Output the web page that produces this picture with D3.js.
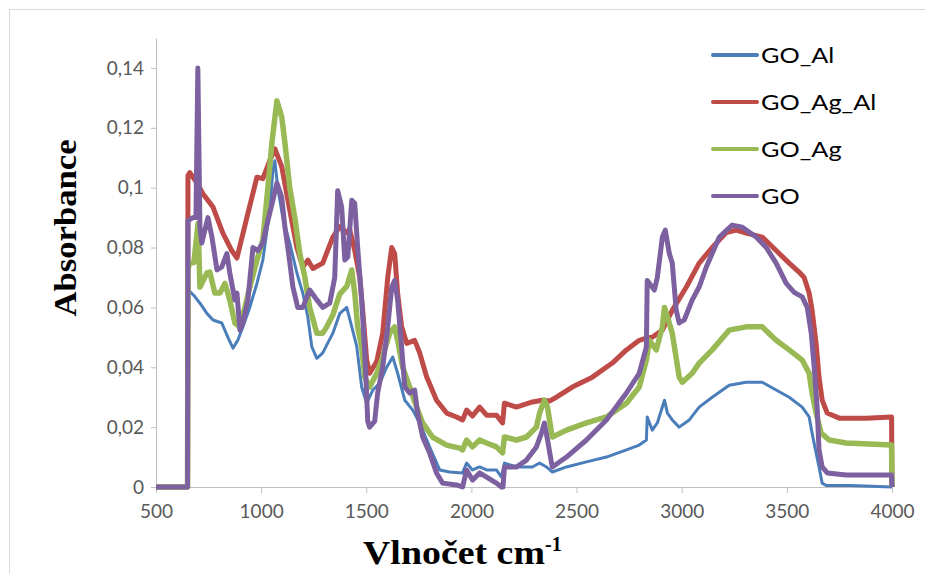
<!DOCTYPE html>
<html>
<head>
<meta charset="utf-8">
<script src="https://cdn.jsdelivr.net/npm/d3@7"></script>
<style>
  body { margin: 0; background: #fff; }
  #chart text { font-family: Lato, "Open Sans", sans-serif; }
</style>
</head>
<body>
<svg id="chart" width="925" height="574"></svg>
<script>
// wavenumber (cm-1), absorbance pairs
const goAl = [
  [500,0],[650,0],[652,0.066],[680,0.064],[709,0.0614],[742,0.058],[771,0.0558],[813,0.0548],[842,0.050],
  [866,0.0464],[889,0.049],[913,0.0535],[946,0.060],[980,0.068],[1008,0.0758],[1041,0.0925],[1056,0.106],
  [1065,0.109],[1079,0.100],[1103,0.090],[1136,0.0815],[1170,0.0715],[1198,0.0648],[1222,0.0568],[1241,0.0468],
  [1265,0.043],[1293,0.0448],[1341,0.0514],[1374,0.058],[1407,0.060],[1431,0.0535],[1455,0.0468],[1478,0.0334],
  [1502,0.028],[1531,0.0324],[1564,0.0347],[1597,0.040],[1626,0.0434],[1649,0.038],[1683,0.029],[1721,0.0257],
  [1754,0.0214],[1801,0.0134],[1849,0.0057],[1896,0.005],[1958,0.0047],[1977,0.008],[2005,0.0057],[2039,0.0067],
  [2072,0.0057],[2119,0.0057],[2143,0.0033],[2157,0.008],[2214,0.0067],[2290,0.0067],[2324,0.008],[2357,0.0067],
  [2385,0.005],[2452,0.0067],[2547,0.0084],[2642,0.010],[2737,0.0124],[2798,0.014],[2832,0.0157],[2836,0.0234],
  [2860,0.019],[2884,0.0214],[2918,0.029],[2932,0.0247],[2955,0.0224],[2988,0.020],[3036,0.0224],[3083,0.0267],
  [3145,0.030],[3226,0.034],[3307,0.035],[3383,0.035],[3449,0.0324],[3511,0.030],[3573,0.0267],[3606,0.0234],
  [3620,0.018],[3639,0.0114],[3653,0.0067],[3668,0.0013],[3687,0.0005],[3800,0.0005],[4000,0]
];

const goAgAl = [
  [500,0],[650,0],[652,0.104],[661,0.105],[700,0.101],[723,0.098],[771,0.0935],[818,0.0848],[860,0.079],
  [885,0.0765],[932,0.090],[980,0.1035],[1008,0.103],[1041,0.109],[1065,0.113],[1098,0.107],[1136,0.0925],
  [1170,0.080],[1198,0.0735],[1222,0.0758],[1246,0.073],[1293,0.0748],[1341,0.0835],[1374,0.087],[1407,0.085],
  [1421,0.086],[1445,0.079],[1469,0.070],[1483,0.059],[1502,0.0424],[1516,0.038],[1550,0.042],[1578,0.0514],
  [1602,0.070],[1621,0.080],[1635,0.078],[1649,0.0648],[1668,0.0535],[1692,0.048],[1730,0.049],[1754,0.0448],
  [1787,0.0368],[1834,0.029],[1882,0.0247],[1929,0.0234],[1958,0.0224],[1977,0.0257],[2005,0.0237],[2039,0.0267],
  [2072,0.024],[2119,0.024],[2148,0.0214],[2157,0.028],[2214,0.0267],[2290,0.0284],[2338,0.029],[2371,0.0287],
  [2404,0.030],[2480,0.0334],[2575,0.0367],[2670,0.0414],[2737,0.0458],[2798,0.049],[2836,0.0498],[2860,0.050],
  [2908,0.0524],[2955,0.059],[3022,0.0668],[3083,0.0748],[3145,0.080],[3212,0.085],[3259,0.0858],[3307,0.0848],
  [3383,0.0835],[3449,0.079],[3511,0.0748],[3558,0.0718],[3582,0.070],[3606,0.0648],[3620,0.059],[3639,0.048],
  [3653,0.0367],[3668,0.029],[3692,0.0247],[3749,0.023],[3877,0.023],[3998,0.0234],[4000,0]
];

const goAg = [
  [500,0],[650,0],[652,0.073],[661,0.0748],[680,0.075],[700,0.088],[709,0.0668],[742,0.0715],[756,0.0718],
  [780,0.0648],[804,0.0648],[828,0.068],[851,0.0625],[875,0.0548],[899,0.0535],[923,0.060],[946,0.0668],
  [980,0.0758],[1008,0.0825],[1032,0.100],[1051,0.115],[1075,0.129],[1098,0.1236],[1113,0.115],[1136,0.100],
  [1160,0.090],[1184,0.078],[1208,0.070],[1231,0.060],[1265,0.0514],[1293,0.0514],[1312,0.0535],[1341,0.0575],
  [1374,0.0645],[1407,0.067],[1431,0.0725],[1445,0.0648],[1459,0.0535],[1478,0.0468],[1493,0.0367],[1516,0.0334],
  [1550,0.038],[1578,0.0434],[1611,0.0514],[1635,0.0535],[1649,0.049],[1673,0.040],[1706,0.0334],[1739,0.0267],
  [1768,0.0214],[1815,0.0167],[1882,0.014],[1944,0.013],[1958,0.0124],[1977,0.0157],[2005,0.0134],[2039,0.0157],
  [2072,0.0147],[2119,0.0134],[2148,0.0114],[2157,0.0167],[2214,0.0157],[2262,0.0167],[2309,0.020],[2324,0.0247],
  [2347,0.029],[2362,0.0267],[2381,0.018],[2385,0.0167],[2452,0.019],[2547,0.0214],[2642,0.0234],[2737,0.028],
  [2798,0.0334],[2832,0.0424],[2846,0.049],[2879,0.0458],[2908,0.0535],[2918,0.060],[2941,0.0548],[2955,0.0514],
  [2988,0.0367],[3003,0.035],[3050,0.038],[3083,0.0414],[3145,0.0458],[3226,0.0524],[3307,0.0535],[3383,0.0535],
  [3449,0.049],[3511,0.0458],[3573,0.0424],[3606,0.038],[3620,0.0314],[3639,0.0247],[3663,0.018],[3701,0.0157],
  [3782,0.0147],[3998,0.014],[4000,0]
];

const goOnly = [
  [500,0],[650,0],[652,0.089],[676,0.090],[690,0.090],[699,0.14],[709,0.0868],[718,0.0815],[733,0.086],
  [747,0.090],[766,0.0835],[790,0.0725],[813,0.0735],[837,0.078],[851,0.0715],[875,0.0625],[885,0.0648],
  [899,0.0524],[913,0.0548],[937,0.0625],[961,0.080],[984,0.079],[1008,0.0815],[1032,0.089],[1056,0.0958],
  [1075,0.1015],[1098,0.0968],[1113,0.0868],[1127,0.080],[1151,0.0668],[1174,0.060],[1198,0.060],[1231,0.0658],
  [1265,0.0625],[1293,0.060],[1326,0.0614],[1350,0.070],[1364,0.099],[1383,0.0935],[1398,0.0758],[1412,0.0768],
  [1431,0.0958],[1445,0.0948],[1459,0.080],[1478,0.0625],[1493,0.0448],[1507,0.022],[1516,0.020],[1540,0.022],
  [1554,0.0314],[1578,0.040],[1602,0.0535],[1621,0.0668],[1635,0.069],[1649,0.0625],[1668,0.0468],[1683,0.0334],
  [1706,0.0314],[1730,0.0324],[1744,0.0247],[1768,0.0167],[1801,0.0114],[1834,0.0047],[1863,0.0013],[1929,0.0007],
  [1958,0],[1977,0.0057],[2005,0.0023],[2039,0.0047],[2072,0.0033],[2119,0.0013],[2143,0],[2150,0],[2157,0.0067],
  [2214,0.0067],[2262,0.009],[2309,0.0134],[2333,0.018],[2347,0.0214],[2362,0.0157],[2381,0.008],[2385,0.0067],
  [2452,0.010],[2547,0.0157],[2642,0.0224],[2737,0.0314],[2798,0.038],[2832,0.0468],[2836,0.069],[2870,0.0658],
  [2884,0.070],[2908,0.0835],[2922,0.0858],[2941,0.078],[2955,0.0748],[2974,0.059],[2988,0.0548],[3012,0.0558],
  [3050,0.0625],[3083,0.0668],[3117,0.0735],[3179,0.0835],[3240,0.0875],[3288,0.0868],[3354,0.0835],[3402,0.080],
  [3449,0.0748],[3497,0.068],[3535,0.065],[3573,0.0635],[3597,0.060],[3616,0.0514],[3630,0.040],[3644,0.0267],
  [3653,0.0124],[3668,0.0067],[3692,0.0047],[3782,0.004],[3998,0.004],[4000,0]
];

const seriesNames = ["GO_Al", "GO_Ag_Al", "GO_Ag", "GO"];
const seriesData = [goAl, goAgAl, goAg, goOnly];
const xTicks = [500, 1000, 1500, 2000, 2500, 3000, 3500, 4000];
const yTicks = [0, 0.02, 0.04, 0.06, 0.08, 0.1, 0.12, 0.14];

const colors = ["#4a7ebb", "#be4b48", "#98b954", "#7d60a0"];
const widths = [3, 5, 5.5, 5];

const svg = d3.select("#chart");

// chart area border (open to the right and bottom, as in the picture)
svg.append("rect")
  .attr("x", 9.5).attr("y", 9.5)
  .attr("width", 1000).attr("height", 1000)
  .attr("fill", "none").attr("stroke", "#d9d9d9");

const x = d3.scaleLinear().domain([500, 4000]).range([156, 892]);
const y = d3.scaleLinear().domain([0, 0.15]).range([487, 38]);

const fmt = (d) => String(d).replace(".", ",");

const gx = svg.append("g")
  .attr("transform", "translate(0," + y(0) + ")")
  .call(d3.axisBottom(x).tickValues(xTicks).tickFormat(d3.format("d"))
    .tickSize(6).tickPadding(15).tickSizeOuter(0));

const gy = svg.append("g")
  .attr("transform", "translate(" + x(500) + ",0)")
  .call(d3.axisLeft(y).tickValues(yTicks).tickFormat(fmt).tickSize(5).tickPadding(7).tickSizeOuter(0));

[gx, gy].forEach((g) => {
  g.select(".domain").attr("stroke", "#bfbfbf");
  g.selectAll(".tick line").attr("stroke", "#bfbfbf");
  g.selectAll(".tick text")
    .attr("fill", "#595959")
    .style("font-size", "19px")
    .style("font-family", "Lato, sans-serif");
});
gx.selectAll(".tick text").attr("dy", "0.5em");

const line = d3.line()
  .x((d) => x(d[0]))
  .y((d) => y(d[1]));

svg.append("g").selectAll("path")
  .data(seriesData)
  .enter().append("path")
  .attr("d", line)
  .attr("fill", "none")
  .attr("stroke", (d, i) => colors[i])
  .attr("stroke-width", (d, i) => widths[i])
  .attr("stroke-linejoin", "round");

// legend
const legend = svg.append("g");
seriesNames.forEach((name, i) => {
  let ly = 55 + i * 47;
  legend.append("line")
    .attr("x1", 713).attr("x2", 757)
    .attr("y1", ly).attr("y2", ly)
    .attr("stroke", colors[i])
    .attr("stroke-width", 4)
    .attr("stroke-linecap", "round");
  legend.append("text")
    .attr("transform", "translate(761," + ly + ") scale(1.15,1)")
    .attr("dy", "0.36em")
    .style("font-size", "22px")
    .attr("fill", "#000")
    .text(name);
});

// axis titles
svg.append("text")
  .attr("transform", "translate(76,228) rotate(-90)")
  .attr("text-anchor", "middle")
  .style("font-family", "'Liberation Serif', 'DejaVu Serif', serif")
  .style("font-size", "31px")
  .style("font-weight", "bold")
  .attr("textLength", 177)
  .attr("lengthAdjust", "spacingAndGlyphs")
  .text("Absorbance");

const xt = svg.append("text")
  .attr("x", 363).attr("y", 564)
  .style("font-family", "'Liberation Serif', 'DejaVu Serif', serif")
  .style("font-size", "34px")
  .style("font-weight", "bold");
xt.append("tspan")
  .attr("textLength", 182)
  .attr("lengthAdjust", "spacingAndGlyphs")
  .text("Vlnočet cm");
xt.append("tspan")
  .attr("dy", -13)
  .style("font-size", "20px")
  .text("-1");
</script>
</body>
</html>
